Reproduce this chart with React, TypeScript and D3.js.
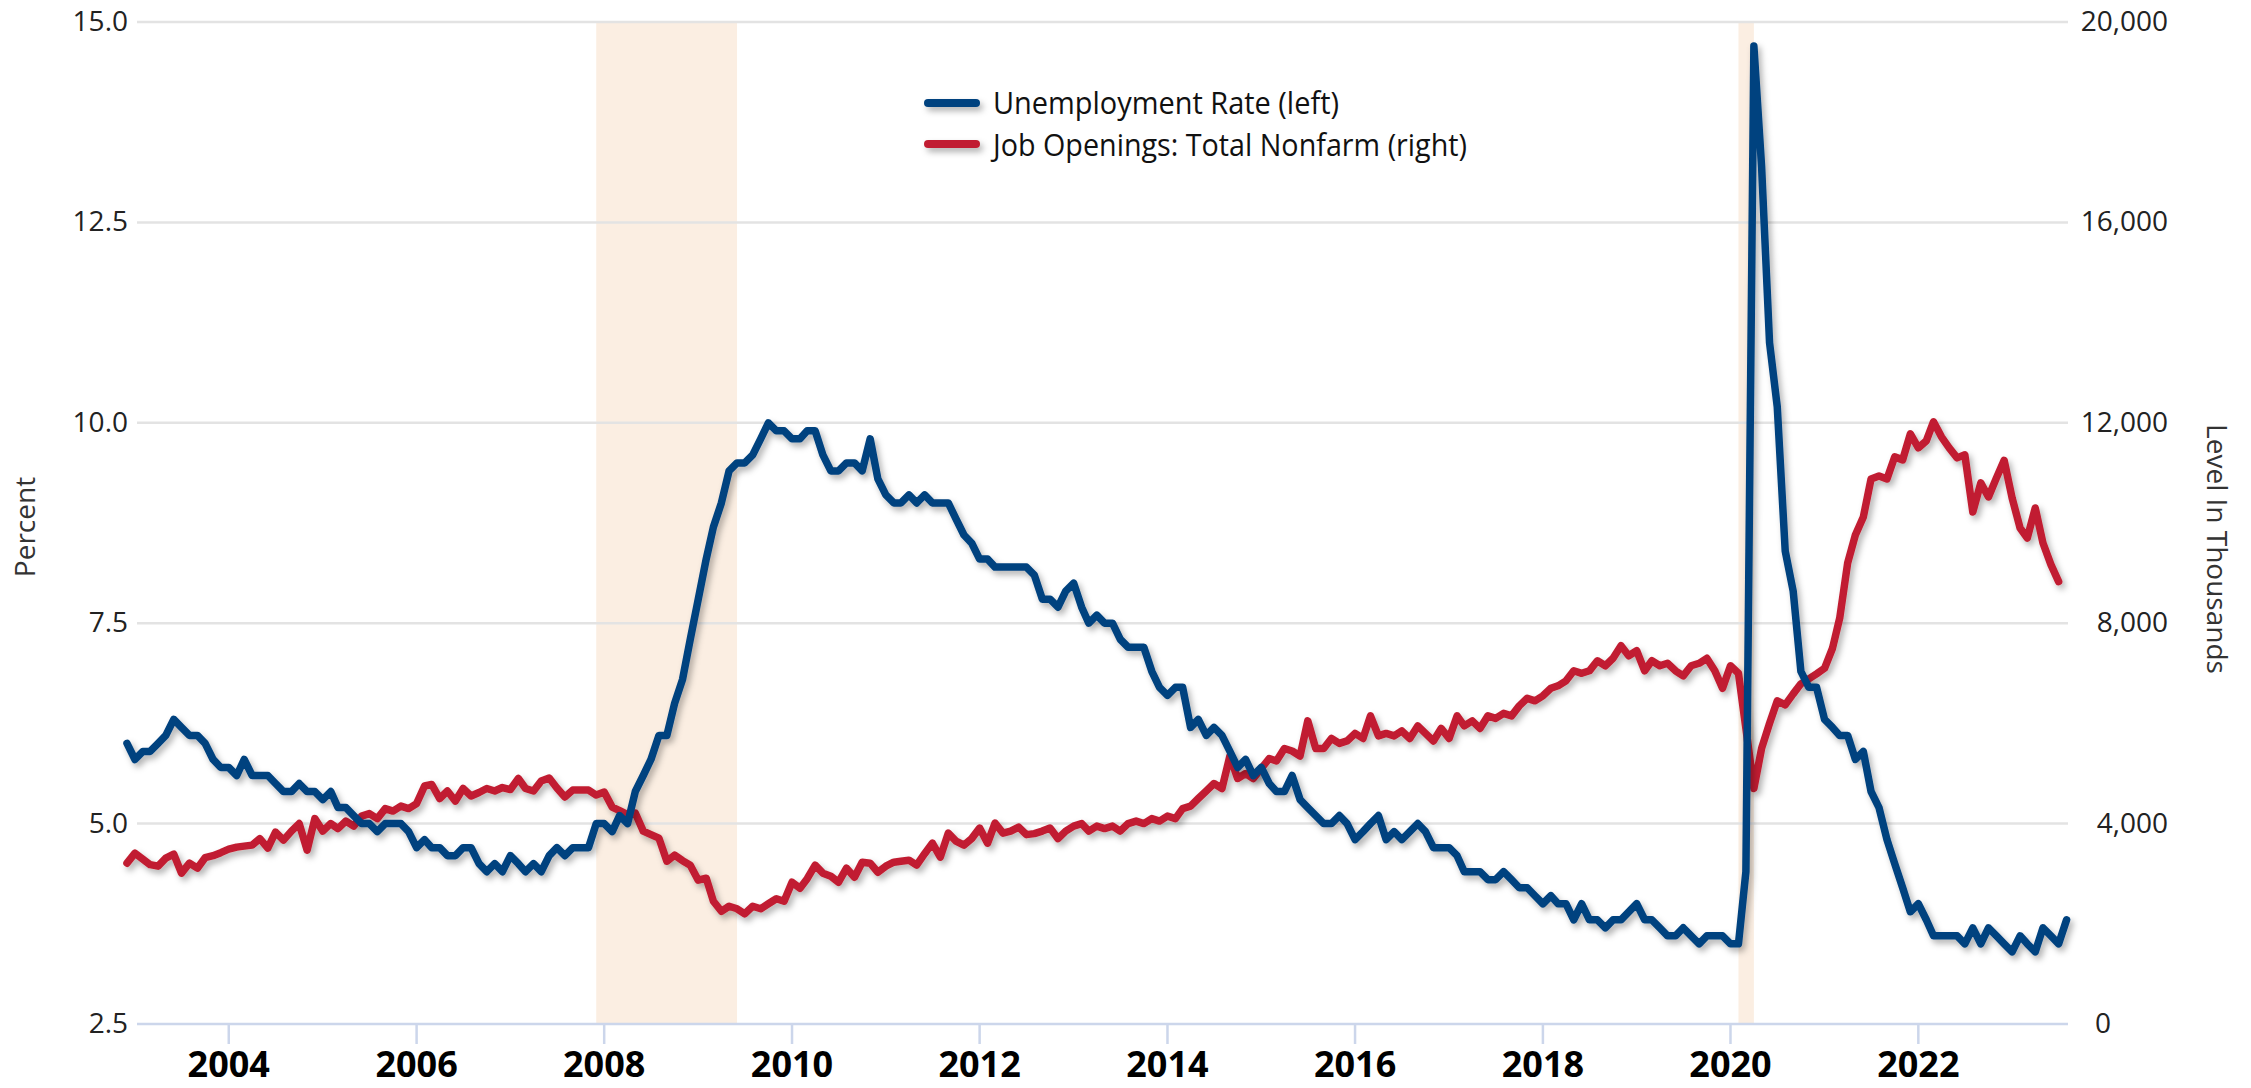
import React from "react";
import * as d3 from "d3";

// Monthly data, first month Dec 2002
const START_YEAR = 2002;
const START_MONTH = 11; // December (0-based)

// Unemployment Rate, percent (Dec 2002 – Aug 2023)
const unemploymentRate: number[] = [
  6.0,
  5.8, 5.9, 5.9, 6.0, 6.1, 6.3, 6.2, 6.1, 6.1, 6.0, 5.8, 5.7,
  5.7, 5.6, 5.8, 5.6, 5.6, 5.6, 5.5, 5.4, 5.4, 5.5, 5.4, 5.4,
  5.3, 5.4, 5.2, 5.2, 5.1, 5.0, 5.0, 4.9, 5.0, 5.0, 5.0, 4.9,
  4.7, 4.8, 4.7, 4.7, 4.6, 4.6, 4.7, 4.7, 4.5, 4.4, 4.5, 4.4,
  4.6, 4.5, 4.4, 4.5, 4.4, 4.6, 4.7, 4.6, 4.7, 4.7, 4.7, 5.0,
  5.0, 4.9, 5.1, 5.0, 5.4, 5.6, 5.8, 6.1, 6.1, 6.5, 6.8, 7.3,
  7.8, 8.3, 8.7, 9.0, 9.4, 9.5, 9.5, 9.6, 9.8, 10.0, 9.9, 9.9,
  9.8, 9.8, 9.9, 9.9, 9.6, 9.4, 9.4, 9.5, 9.5, 9.4, 9.8, 9.3,
  9.1, 9.0, 9.0, 9.1, 9.0, 9.1, 9.0, 9.0, 9.0, 8.8, 8.6, 8.5,
  8.3, 8.3, 8.2, 8.2, 8.2, 8.2, 8.2, 8.1, 7.8, 7.8, 7.7, 7.9,
  8.0, 7.7, 7.5, 7.6, 7.5, 7.5, 7.3, 7.2, 7.2, 7.2, 6.9, 6.7,
  6.6, 6.7, 6.7, 6.2, 6.3, 6.1, 6.2, 6.1, 5.9, 5.7, 5.8, 5.6,
  5.7, 5.5, 5.4, 5.4, 5.6, 5.3, 5.2, 5.1, 5.0, 5.0, 5.1, 5.0,
  4.8, 4.9, 5.0, 5.1, 4.8, 4.9, 4.8, 4.9, 5.0, 4.9, 4.7, 4.7,
  4.7, 4.6, 4.4, 4.4, 4.4, 4.3, 4.3, 4.4, 4.3, 4.2, 4.2, 4.1,
  4.0, 4.1, 4.0, 4.0, 3.8, 4.0, 3.8, 3.8, 3.7, 3.8, 3.8, 3.9,
  4.0, 3.8, 3.8, 3.7, 3.6, 3.6, 3.7, 3.6, 3.5, 3.6, 3.6, 3.6,
  3.5, 3.5, 4.4, 14.7, 13.2, 11.0, 10.2, 8.4, 7.9, 6.9, 6.7, 6.7,
  6.3, 6.2, 6.1, 6.1, 5.8, 5.9, 5.4, 5.2, 4.8, 4.5, 4.2, 3.9,
  4.0, 3.8, 3.6, 3.6, 3.6, 3.6, 3.5, 3.7, 3.5, 3.7, 3.6, 3.5,
  3.4, 3.6, 3.5, 3.4, 3.7, 3.6, 3.5, 3.8,
];

// Job Openings: Total Nonfarm, thousands (Dec 2002 – Jul 2023)
const jobOpenings: number[] = [
  3210,
  3410, 3290, 3180, 3150, 3310, 3390, 3010, 3210, 3110, 3320, 3360, 3420,
  3490, 3530, 3550, 3570, 3700, 3510, 3830, 3670, 3850, 4000, 3470, 4100,
  3850, 4000, 3900, 4050, 3950, 4150, 4200, 4100, 4300, 4250, 4350, 4300,
  4400, 4750, 4780, 4500, 4650, 4450, 4700, 4550, 4620, 4700, 4650, 4720,
  4680, 4900, 4700, 4650, 4850, 4910, 4710, 4530, 4670, 4670, 4670, 4570,
  4630, 4330, 4260, 4180, 4210, 3850, 3780, 3710, 3250, 3370, 3260, 3170,
  2870, 2910, 2450, 2250, 2350, 2300, 2200, 2350, 2300, 2400, 2500, 2450,
  2830, 2710, 2900, 3170, 3010, 2950, 2830, 3110, 2930, 3230, 3210, 3030,
  3150, 3230, 3250, 3270, 3170, 3400, 3610, 3330, 3810, 3650, 3570, 3700,
  3910, 3610, 4010, 3810, 3850, 3930, 3780, 3800, 3850, 3910, 3700, 3850,
  3950, 4000, 3850, 3950, 3900, 3950, 3850, 4000, 4050, 4000, 4100, 4050,
  4150, 4100, 4300, 4350, 4500, 4650, 4800, 4700, 5350, 4900, 5000, 4900,
  5100, 5300, 5250, 5500, 5450, 5350, 6050, 5500, 5500, 5700, 5600, 5650,
  5800, 5700, 6150, 5750, 5800, 5750, 5850, 5700, 5950, 5800, 5650, 5900,
  5700, 6150, 5950, 6050, 5900, 6150, 6100, 6200, 6150, 6350, 6500, 6450,
  6550, 6700, 6750, 6850, 7050, 7000, 7050, 7250, 7150, 7300, 7550, 7350,
  7450, 7050, 7250, 7150, 7200, 7050, 6950, 7150, 7200, 7300, 7050, 6700,
  7150, 7000, 5900, 4700, 5500, 6000, 6450, 6370, 6590, 6790, 6890, 6990,
  7100, 7500, 8100, 9200, 9760, 10120, 10880, 10940, 10880, 11320, 11260, 11780,
  11500, 11640, 12020, 11720, 11500, 11300, 11360, 10220, 10800, 10520, 10900, 11250,
  10500, 9900, 9700, 10300, 9600, 9170, 8830,
];

const yearTicks: number[] = [2004, 2006, 2008, 2010, 2012, 2014, 2016, 2018, 2020, 2022];
const leftTicks: number[] = [2.5, 5.0, 7.5, 10.0, 12.5, 15.0];
const rightTicks: number[] = [0, 4000, 8000, 12000, 16000, 20000];
const recessions: [string, string][] = [
  ["2007-12-01", "2009-06-01"],
  ["2020-02-01", "2020-04-01"],
];
const seriesNames = ["Unemployment Rate (left)", "Job Openings: Total Nonfarm (right)"];

const BLUE = "#00427f";
const RED = "#c11f31";
const W = 2251;
const H = 1088;
const PLOT_L = 137;
const PLOT_R = 2068;
const PLOT_T = 22;
const PLOT_B = 1024;

function monthDate(i: number): Date {
  return new Date(START_YEAR, START_MONTH + i, 1);
}
function parseDay(s: string): Date {
  const [y, m, d] = s.split("-").map(Number);
  return new Date(y, m - 1, d);
}

export default function App() {
  const x = d3
    .scaleTime()
    .domain([new Date(2002, 11, 1), new Date(2023, 7, 1)])
    .range([127, 2066.6]);
  const yL = d3.scaleLinear().domain([2.5, 15]).range([PLOT_B, PLOT_T]);
  const yR = d3.scaleLinear().domain([0, 20000]).range([PLOT_B, PLOT_T]);

  const blueData = unemploymentRate.map((v, i) => ({ d: monthDate(i), v }));
  const redData = jobOpenings.map((v, i) => ({ d: monthDate(i), v }));

  const lineL = d3
    .line<{ d: Date; v: number }>()
    .x((p) => x(p.d))
    .y((p) => yL(p.v));
  const lineR = d3
    .line<{ d: Date; v: number }>()
    .x((p) => x(p.d))
    .y((p) => yR(p.v));

  const fmtL = d3.format(".1f");
  const fmtR = d3.format(",");
  const font = "'Open Sans', 'Noto Sans', sans-serif";
  const legendFont = "'Liberation Sans Narrow', 'Open Sans', sans-serif";

  return (
    <svg
      width={W}
      height={H}
      style={{ position: "absolute", left: 0, top: 0, display: "block", background: "#fff" }}
    >
      <defs>
        <filter id="shadow" filterUnits="userSpaceOnUse" x={0} y={0} width={W} height={H}>
          <feDropShadow dx="3" dy="4" stdDeviation="3" floodColor="#000" floodOpacity="0.3" />
        </filter>
      </defs>
      <rect x={0} y={0} width={W} height={H} fill="#fff" />

      {/* recession bands */}
      {recessions.map(([a, b], i) => (
        <rect
          key={i}
          x={x(parseDay(a))}
          y={PLOT_T}
          width={x(parseDay(b)) - x(parseDay(a))}
          height={PLOT_B - PLOT_T}
          fill="#fbeee2"
        />
      ))}

      {/* gridlines */}
      {leftTicks.slice(1).map((t) => (
        <line key={t} x1={PLOT_L} x2={PLOT_R} y1={yL(t)} y2={yL(t)} stroke="#e3e3e3" strokeWidth={2.5} />
      ))}
      {/* x axis line and ticks */}
      <line x1={PLOT_L} x2={PLOT_R} y1={PLOT_B} y2={PLOT_B} stroke="#ccd6eb" strokeWidth={2.5} />
      {yearTicks.map((yr) => {
        const xx = x(new Date(yr, 0, 1));
        return (
          <g key={yr}>
            <line x1={xx} x2={xx} y1={PLOT_B} y2={PLOT_B + 20} stroke="#ccd6eb" strokeWidth={2.5} />
            <text
              x={xx}
              y={1077}
              textAnchor="middle"
              fontFamily={font}
              fontWeight={700}
              fontSize={36}
              fill="#000"
            >
              {yr}
            </text>
          </g>
        );
      })}

      {/* left axis labels */}
      {leftTicks.map((t) => (
        <text key={t} x={128} y={yL(t) + 9} textAnchor="end" fontFamily={font} fontSize={28} fill="#222">
          {fmtL(t)}
        </text>
      ))}
      {/* right axis labels */}
      {rightTicks.map((t) => (
        <text
          key={t}
          x={t === 0 ? 2095 : 2168}
          y={yR(t) + 9}
          textAnchor={t === 0 ? "start" : "end"}
          fontFamily={font}
          fontSize={28}
          fill="#222"
        >
          {fmtR(t)}
        </text>
      ))}

      {/* axis titles */}
      <text
        transform={`translate(35, 527) rotate(-90)`}
        textAnchor="middle"
        fontFamily={font}
        fontSize={28}
        fill="#333"
      >
        Percent
      </text>
      <text
        transform={`translate(2207, 549) rotate(90)`}
        textAnchor="middle"
        fontFamily={font}
        fontSize={28}
        fill="#333"
      >
        Level In Thousands
      </text>

      {/* series */}
      <path
        d={lineR(redData) || ""}
        fill="none"
        stroke={RED}
        strokeWidth={7.5}
        strokeLinejoin="round"
        strokeLinecap="round"
        filter="url(#shadow)"
      />
      <path
        d={lineL(blueData) || ""}
        fill="none"
        stroke={BLUE}
        strokeWidth={7.5}
        strokeLinejoin="round"
        strokeLinecap="round"
        filter="url(#shadow)"
      />

      {/* legend */}
      <g>
        <line x1={928} x2={976} y1={103} y2={103} stroke={BLUE} strokeWidth={8} strokeLinecap="round" filter="url(#shadow)" />
        <text x={993} y={114} fontFamily={legendFont} fontSize={31} fill="#111" textLength={346} lengthAdjust="spacingAndGlyphs">
          {seriesNames[0]}
        </text>
        <line x1={928} x2={976} y1={144} y2={144} stroke={RED} strokeWidth={8} strokeLinecap="round" filter="url(#shadow)" />
        <text x={993} y={156} fontFamily={legendFont} fontSize={31} fill="#111" textLength={474} lengthAdjust="spacingAndGlyphs">
          {seriesNames[1]}
        </text>
      </g>
    </svg>
  );
}
